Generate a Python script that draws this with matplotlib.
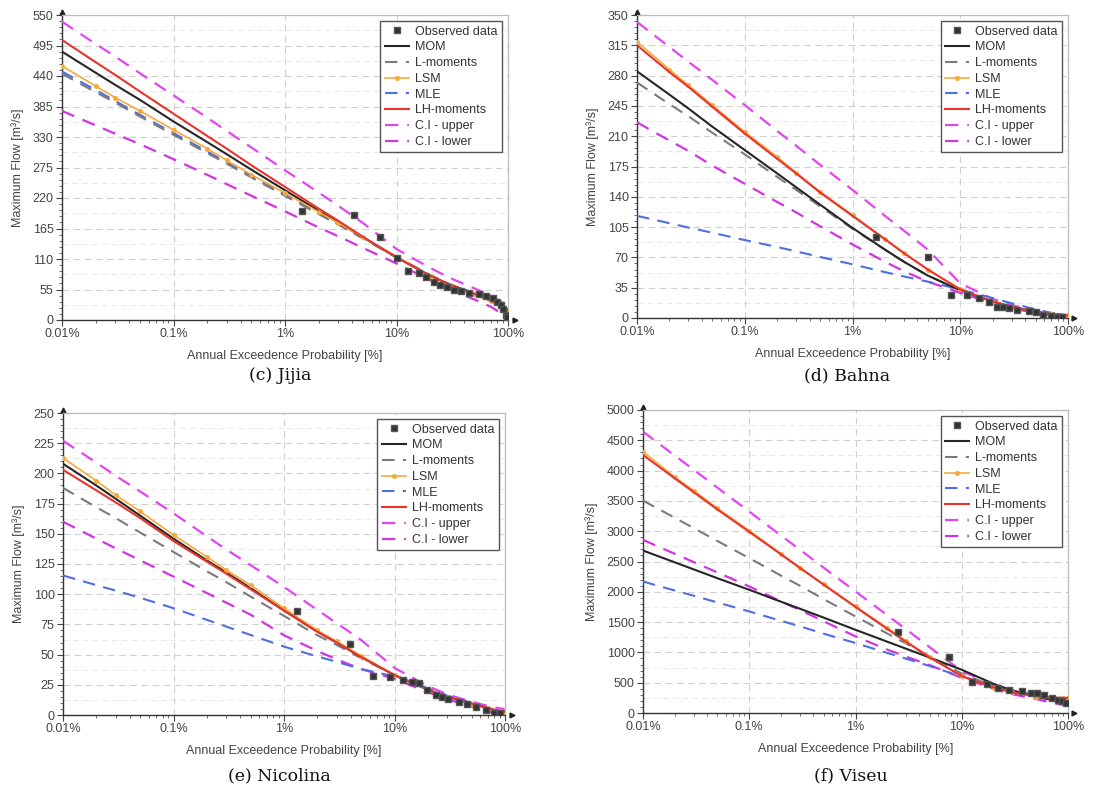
import numpy as np
import matplotlib
matplotlib.use("Agg")
import matplotlib.pyplot as plt
from matplotlib.ticker import FixedLocator, MultipleLocator, LogLocator, NullFormatter

plt.rcParams['font.family'] = ['Liberation Sans', 'DejaVu Sans']

# exceedance probabilities [%] used for the fitted curves
aep = [0.01, 0.02, 0.03, 0.05, 0.1, 0.2, 0.3, 0.5, 1, 2, 3, 5, 10, 20, 30, 50, 70, 90, 99]

# ---- (c) Jijia ----
jijia_obs_p = [1.43, 4.2, 7.1, 10, 12.8, 15.8, 18.5, 21.5, 24.8, 28.5, 32.8, 38, 45, 55, 64, 73, 80, 87, 91, 95, 97]
jijia_obs_q = [197, 190, 149, 111, 88, 85, 78, 69, 63, 59, 55, 53, 49, 47, 43, 39, 33, 27, 19, 9, 5]
jijia_mom = [484, 446, 424, 397, 358, 321, 299, 271, 234, 197, 176, 149, 113, 80, 64, 48, 36, 25, 18]
jijia_lmom = [444, 411, 392, 367, 334, 301, 282, 257, 224, 191, 172, 147, 113, 81, 64, 47, 35, 24, 18]
jijia_lsm = [458, 422, 401, 377, 343, 309, 288, 262, 229, 195, 175, 149, 114, 80, 63, 46, 34, 23, 16]
jijia_mle = [448, 415, 395, 370, 337, 304, 284, 259, 226, 193, 173, 148, 114, 81, 64, 47, 35, 24, 18]
jijia_lh = [505, 465, 442, 412, 372, 332, 309, 279, 240, 201, 179, 150, 113, 80, 64, 47, 35, 24, 18]
jijia_ciu = [538, 498, 475, 445, 405, 365, 341, 311, 270, 230, 206, 175, 128, 94, 76, 57, 44, 31, 22]
jijia_cil = [377, 351, 336, 317, 290, 262, 245, 224, 196, 167, 151, 130, 102, 72, 55, 37, 24, 10, 2]

# ---- (d) Bahna ----
bahna_obs_p = [1.67, 5.0, 8.2, 11.5, 15, 18.3, 21.8, 25, 28.6, 33.6, 43, 51, 59, 69, 79, 88]
bahna_obs_q = [93, 70, 27, 26, 23, 19, 13, 13, 11.5, 9.6, 7.7, 6.5, 4, 2, 1.2, 0.8]
bahna_mom = [285, 258, 242, 221, 194, 167, 151, 131, 104, 79, 65, 49, 32, 19, 13, 7, 4.5, 3.5, 3]
bahna_lmom = [272, 247, 233, 214, 189, 163, 148, 129, 103, 79, 65, 49, 32, 19, 13, 7, 4.5, 3.5, 3]
bahna_lsm = [319, 287, 269, 246, 215, 186, 168, 146, 119, 91, 75, 56, 33, 19, 13, 7, 4.5, 3.5, 3]
bahna_mle = [118, 109.5, 104.5, 98.5, 90, 82, 77, 70.5, 62, 53, 48, 42, 33, 23, 17, 10, 6, 4, 3.5]
bahna_lh = [315, 284, 267, 244, 213, 184, 167, 145, 118, 91, 75, 56, 33, 19, 13, 7, 4.5, 3.5, 3]
bahna_ciu = [342, 313, 296, 275, 246, 216, 199, 177, 148, 118, 101, 79, 40, 22, 15, 8, 5, 4, 3.5]
bahna_cil = [226, 205, 193, 176, 155, 134, 122, 106, 85, 65, 54, 42, 29, 17, 11, 6, 3, 2, 1.5]

# ---- (e) Nicolina ----
nico_obs_p = [1.31, 3.92, 6.4, 9.06, 12, 14.3, 16.8, 19.8, 23.5, 26.9, 30.8, 38, 45, 55, 67, 79, 91]
nico_obs_q = [86.5, 58.6, 32.6, 31.8, 29, 27.6, 26.8, 21, 16.6, 14.6, 13, 11, 9, 6.4, 4.1, 1.4, 1.4]
nico_mom = [208, 190, 179, 165, 146, 128, 118, 105, 86.5, 69, 60, 48, 33, 21, 15, 9.5, 5.5, 3, 2]
nico_lmom = [188, 172, 163, 151, 135, 119, 110, 98, 82, 66, 58, 47, 33, 21, 15, 9.5, 5.5, 3, 2]
nico_lsm = [212.7, 194, 182, 168.5, 149, 131, 120, 107.5, 88.4, 70, 61, 49, 33, 21, 15, 9.5, 5.5, 3, 2.5]
nico_mle = [115.5, 107.5, 103, 97, 88.4, 78.8, 73.2, 66.2, 56.6, 48.5, 44, 38, 32, 22, 16, 10, 6, 3.5, 3]
nico_lh = [203, 186, 176, 163, 144, 127, 117, 104, 86.5, 69, 60, 48, 33, 21, 15, 9.5, 5.5, 3.5, 3]
nico_ciu = [227, 209, 198, 185, 167, 148, 137, 124, 106, 87, 76, 62, 39, 24, 17, 11, 7.5, 5.5, 5]
nico_cil = [160, 146, 138, 128, 114.6, 101, 93, 83, 66, 53, 46, 38, 30, 19, 13, 7, 3, 0.5, 0]

# ---- (f) Viseu ----
viseu_obs_p = [2.53, 7.6, 12.5, 17.3, 22, 27.7, 36.8, 45, 51, 60, 70, 80, 88, 95]
viseu_obs_q = [1333, 917, 511, 483, 405, 378, 361, 330, 322, 300, 250, 220, 192, 165]
viseu_mom = [2681, 2485, 2370, 2225, 2033, 1835, 1720, 1575, 1373, 1175, 1060, 915, 714, 480, 370, 270, 215, 175, 160]
viseu_lmom = [3505, 3220, 3050, 2840, 2555, 2265, 2100, 1880, 1593, 1310, 1145, 935, 650, 440, 350, 270, 220, 185, 170]
viseu_lsm = [4313, 3890, 3670, 3379, 3011, 2626, 2390, 2126, 1758, 1401, 1181, 920, 610, 420, 340, 270, 245, 240, 240]
viseu_mle = [2170, 2020, 1935, 1825, 1676, 1520, 1430, 1310, 1154, 990, 895, 775, 600, 460, 375, 290, 230, 190, 175]
viseu_lh = [4258, 3870, 3645, 3360, 2990, 2615, 2395, 2120, 1750, 1385, 1175, 915, 610, 420, 340, 275, 255, 250, 250]
viseu_ciu = [4643, 4245, 4015, 3720, 3324, 2925, 2695, 2400, 2005, 1610, 1380, 1085, 690, 470, 370, 285, 250, 225, 215]
viseu_cil = [2857, 2625, 2490, 2320, 2088, 1840, 1700, 1515, 1264, 1045, 930, 790, 580, 400, 310, 230, 170, 135, 125]

panels = [
    ("(c) Jijia", 550, 55, jijia_obs_p, jijia_obs_q, jijia_mom, jijia_lmom, jijia_lsm, jijia_mle, jijia_lh, jijia_ciu, jijia_cil),
    ("(d) Bahna", 350, 35, bahna_obs_p, bahna_obs_q, bahna_mom, bahna_lmom, bahna_lsm, bahna_mle, bahna_lh, bahna_ciu, bahna_cil),
    ("(e) Nicolina", 250, 25, nico_obs_p, nico_obs_q, nico_mom, nico_lmom, nico_lsm, nico_mle, nico_lh, nico_ciu, nico_cil),
    ("(f) Viseu", 5000, 500, viseu_obs_p, viseu_obs_q, viseu_mom, viseu_lmom, viseu_lsm, viseu_mle, viseu_lh, viseu_ciu, viseu_cil),
]

# axes boxes in pixels: left, right, top, bottom
W, H = 1113, 795
boxes = [(62, 508, 15, 320), (637, 1068, 15, 318), (63, 505, 413, 715), (643, 1068, 410, 713)]
caption_y = [376, 376, 776, 776]

fig = plt.figure(figsize=(W / 100, H / 100), dpi=100)

for (title, ymax, ystep, op, oq, mom, lmom, lsm, mle, lh, ciu, cil), (l, r, t, b), cy in zip(panels, boxes, caption_y):
    ax = fig.add_axes([l / W, 1 - b / H, (r - l) / W, (b - t) / H])
    ax.set_xscale('log')
    ax.set_xlim(0.01, 100)
    ax.set_ylim(0, ymax)

    ax.plot(aep, ciu, color='#e246ef', lw=1.6, dashes=(6, 4), label='C.I - upper', zorder=3)
    ax.plot(aep, cil, color='#d235e0', lw=1.6, dashes=(6, 4), label='C.I - lower', zorder=3)
    ax.plot(aep, mle, color='#4f6fe0', lw=1.5, dashes=(6, 4), label='MLE', zorder=4)
    ax.plot(aep, lmom, color='#7a7a80', lw=1.5, dashes=(6, 4), label='L-moments', zorder=4)
    ax.plot(aep, mom, color='#262626', lw=1.5, label='MOM', zorder=5)
    ax.plot(aep, lsm, color='#f6a93c', lw=1.2, marker='o', ms=2.6, label='LSM', zorder=5)
    ax.plot(aep, lh, color='#e8342c', lw=1.5, label='LH-moments', zorder=6)
    ax.plot(op, oq, ls='none', marker='s', ms=4.2, color='#333333', mec='#555555', label='Observed data', zorder=7)

    # grid
    ax.yaxis.set_major_locator(MultipleLocator(ystep))
    ax.yaxis.set_minor_locator(MultipleLocator(ystep / 5))
    ax.xaxis.set_major_locator(FixedLocator([0.01, 0.1, 1, 10, 100]))
    ax.xaxis.set_minor_locator(LogLocator(base=10, subs=np.arange(2, 10)))
    ax.xaxis.set_minor_formatter(NullFormatter())
    ax.set_xticklabels(['0.01%', '0.1%', '1%', '10%', '100%'])
    ax.grid(True, which='major', color='#d0d0d0', lw=0.8, dashes=(6, 4))
    for yv in np.arange(ystep / 2, ymax, ystep):
        ax.axhline(yv, color='#e8e8e8', lw=0.7, dashes=(6, 4), zorder=0)
    ax.set_axisbelow(True)

    ax.tick_params(which='major', direction='out', length=4, width=0.8, colors='#444444', labelsize=9, pad=2)
    ax.tick_params(which='minor', direction='out', length=2, width=0.6, colors='#555555')
    for lab in ax.get_xticklabels() + ax.get_yticklabels():
        lab.set_color('#444444')

    for side in ['top', 'right']:
        ax.spines[side].set_color('#bbbbbb')
        ax.spines[side].set_linewidth(0.9)
    for side in ['left', 'bottom']:
        ax.spines[side].set_color('#333333')
        ax.spines[side].set_linewidth(1.0)
    ax.plot(0, 1.01, marker='^', ms=3.5, color='#222222', transform=ax.transAxes, clip_on=False)
    ax.plot(1.015, 0, marker='>', ms=3.5, color='#222222', transform=ax.transAxes, clip_on=False)

    ax.set_xlabel('Annual Exceedence Probability [%]', fontsize=9, color='#444444', labelpad=7)
    ax.set_ylabel('Maximum Flow [m³/s]', fontsize=9, color='#444444', labelpad=6)

    hs, ls = ax.get_legend_handles_labels()
    order = ['Observed data', 'MOM', 'L-moments', 'LSM', 'MLE', 'LH-moments', 'C.I - upper', 'C.I - lower']
    hmap = dict(zip(ls, hs))
    leg = ax.legend([hmap[k] for k in order], order, loc='upper right', fontsize=9,
                    frameon=True, fancybox=False, framealpha=1, edgecolor='#555555',
                    borderpad=0.35, labelspacing=0.3, handlelength=1.9, handletextpad=0.5,
                    borderaxespad=0.5)
    leg.get_frame().set_linewidth(1.0)
    for txt in leg.get_texts():
        txt.set_color('#333333')

    fig.text(((l + r) / 2 - 5) / W, 1 - cy / H, title, ha='center', va='center',
             fontsize=12.5, family=['DejaVu Serif'], color='#111111')

fig.savefig('out.png', dpi=100, facecolor='white')
